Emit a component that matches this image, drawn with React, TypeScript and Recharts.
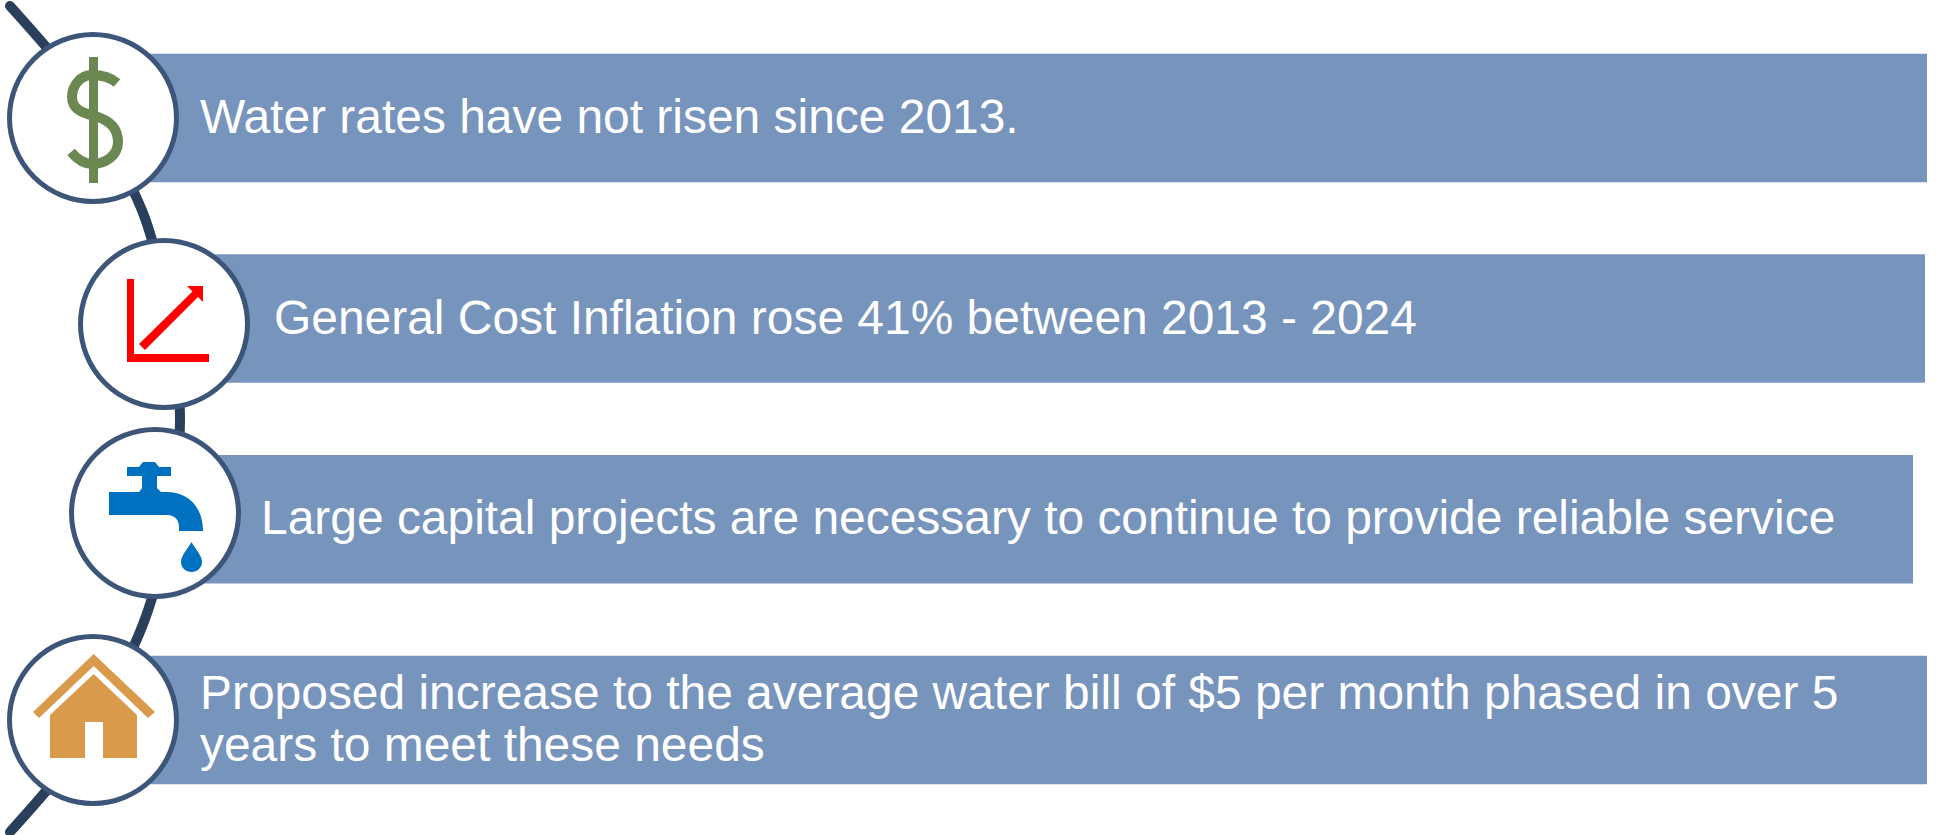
import { ComposedChart, Bar, Line, Scatter, XAxis, YAxis, LabelList } from "recharts";

const rowLabels = [
    "Water rates have not risen since 2013.",
    "General Cost Inflation rose 41% between 2013 - 2024",
    "Large capital projects are necessary to continue to provide reliable service",
    "Proposed increase to the average water bill of $5 per month phased in over 5\nyears to meet these needs",
];
const barStarts = [136, 210, 197, 136];
const barEnds = [1927, 1925, 1913, 1927];

const circleX = [93, 164, 155, 93];
const circleY = [118, 324, 513, 720];
const circleIcons = ["dollar", "growth", "tap", "house"];

const arcX = [10, 57, 98, 133, 152, 173, 180, 173, 152, 133, 98, 57, 10];
const arcY = [6, 60, 120, 190, 240, 330, 419, 510, 598, 648, 718, 778, 832];

const rows = rowLabels.map((label, i) => ({ label, span: [barStarts[i], barEnds[i]] }));
const circles = circleX.map((x, i) => ({ x, y: circleY[i], icon: circleIcons[i] }));
const arc = arcX.map((x, i) => ({ x, y: arcY[i] }));

const Icon = ({ name }: { name: string }) => {
    if (name === "dollar") {
        return (
            <g>
                <rect x={-4} y={-61} width={9} height={126} fill="#6B8752" />
                <path
                    d="M24,-35 C16,-42 7,-43 -1,-43 C-12,-43 -21,-33 -21,-21 C-21,-9 -11,-5 2,-2 C16,2 25,10 25,24 C25,37 13,46 -1,46 C-9,46 -16,41 -22,34"
                    fill="none"
                    stroke="#6B8752"
                    strokeWidth={10}
                />
            </g>
        );
    }
    if (name === "growth") {
        return (
            <g fill="#FF0000">
                <path d="M-37,-45 H-30 V30 H45 V38 H-37 Z" />
                <path d="M-25,20 L29,-33 L34,-27 L-19,26 Z" />
                <path d="M39,-38 H23 L39,-22 Z" />
            </g>
        );
    }
    if (name === "tap") {
        return (
            <g fill="#0070C0">
                <path d="M-12,-51 H0 L4,-46 H16 V-37 H2 V-25 L6,-21 H12 C33,-21 48,-6 48,18 H24 V15 C24,7 20,2 12,2 H-46 V-21 H-16 L-13,-25 V-37 H-28 V-46 H-16 Z" />
                <path d="M36.5,29 C40,36 47,42 47,49 C47,55 42,59 36.5,59 C31,59 26,55 26,49 C26,42 33,36 36.5,29 Z" />
            </g>
        );
    }
    return (
        <g fill="#DA9A4C">
            <path d="M0.7,-66 L62,-8 L55,-2 L0.7,-54 L-54,-2 L-60,-8 Z" />
            <path d="M0.7,-46 L44,-5 V38 H10 V2 H-8 V38 H-43 V-5 Z" />
        </g>
    );
};

const CircleShape = (props: any) => {
    const { cx, cy, payload } = props;
    return (
        <g transform={`translate(${cx},${cy})`}>
            <circle r={83.5} fill="#FFFFFF" stroke="#3D5579" strokeWidth={5} />
            <Icon name={payload.icon} />
        </g>
    );
};

const RowText = (props: any) => {
    const { x, y, height, value } = props;
    const lines = String(value).split("\n");
    const first = y + height / 2 + 15 - (lines.length - 1) * 26;
    return (
        <text x={x + 64} y={first} fontFamily="Liberation Sans" fontSize={47.93} fill="#FFFFFF">
            {lines.map((line, i) => (
                <tspan key={line} x={x + 64} dy={i === 0 ? 0 : 52}>
                    {line}
                </tspan>
            ))}
        </text>
    );
};

export default function App() {
    return (
        <div style={{ position: "absolute", left: 0, top: 0 }}>
            <ComposedChart
                width={1936}
                height={835}
                layout="vertical"
                data={rows}
                margin={{ top: 0, right: 0, bottom: 0, left: 0 }}
            >
                <XAxis xAxisId="px" type="number" dataKey="x" domain={[0, 1936]} hide />
                <YAxis yAxisId="px" type="number" dataKey="y" domain={[0, 835]} hide />
                <YAxis
                    yAxisId="rows"
                    type="category"
                    dataKey="label"
                    padding={{ top: 17.7, bottom: 14.7 }}
                    hide
                />
                <Line
                    data={arc}
                    xAxisId="px"
                    yAxisId="px"
                    dataKey="x"
                    type="natural"
                    stroke="#2A3F5C"
                    strokeWidth={10}
                    strokeLinecap="round"
                    dot={false}
                    activeDot={false}
                    isAnimationActive={false}
                />
                <Bar
                    xAxisId="px"
                    yAxisId="rows"
                    dataKey="span"
                    fill="#7794BC"
                    barSize={128.5}
                    isAnimationActive={false}
                >
                    <LabelList dataKey="label" content={RowText} />
                </Bar>
                <Scatter
                    data={circles}
                    xAxisId="px"
                    yAxisId="px"
                    shape={CircleShape}
                    isAnimationActive={false}
                />
            </ComposedChart>
        </div>
    );
}
